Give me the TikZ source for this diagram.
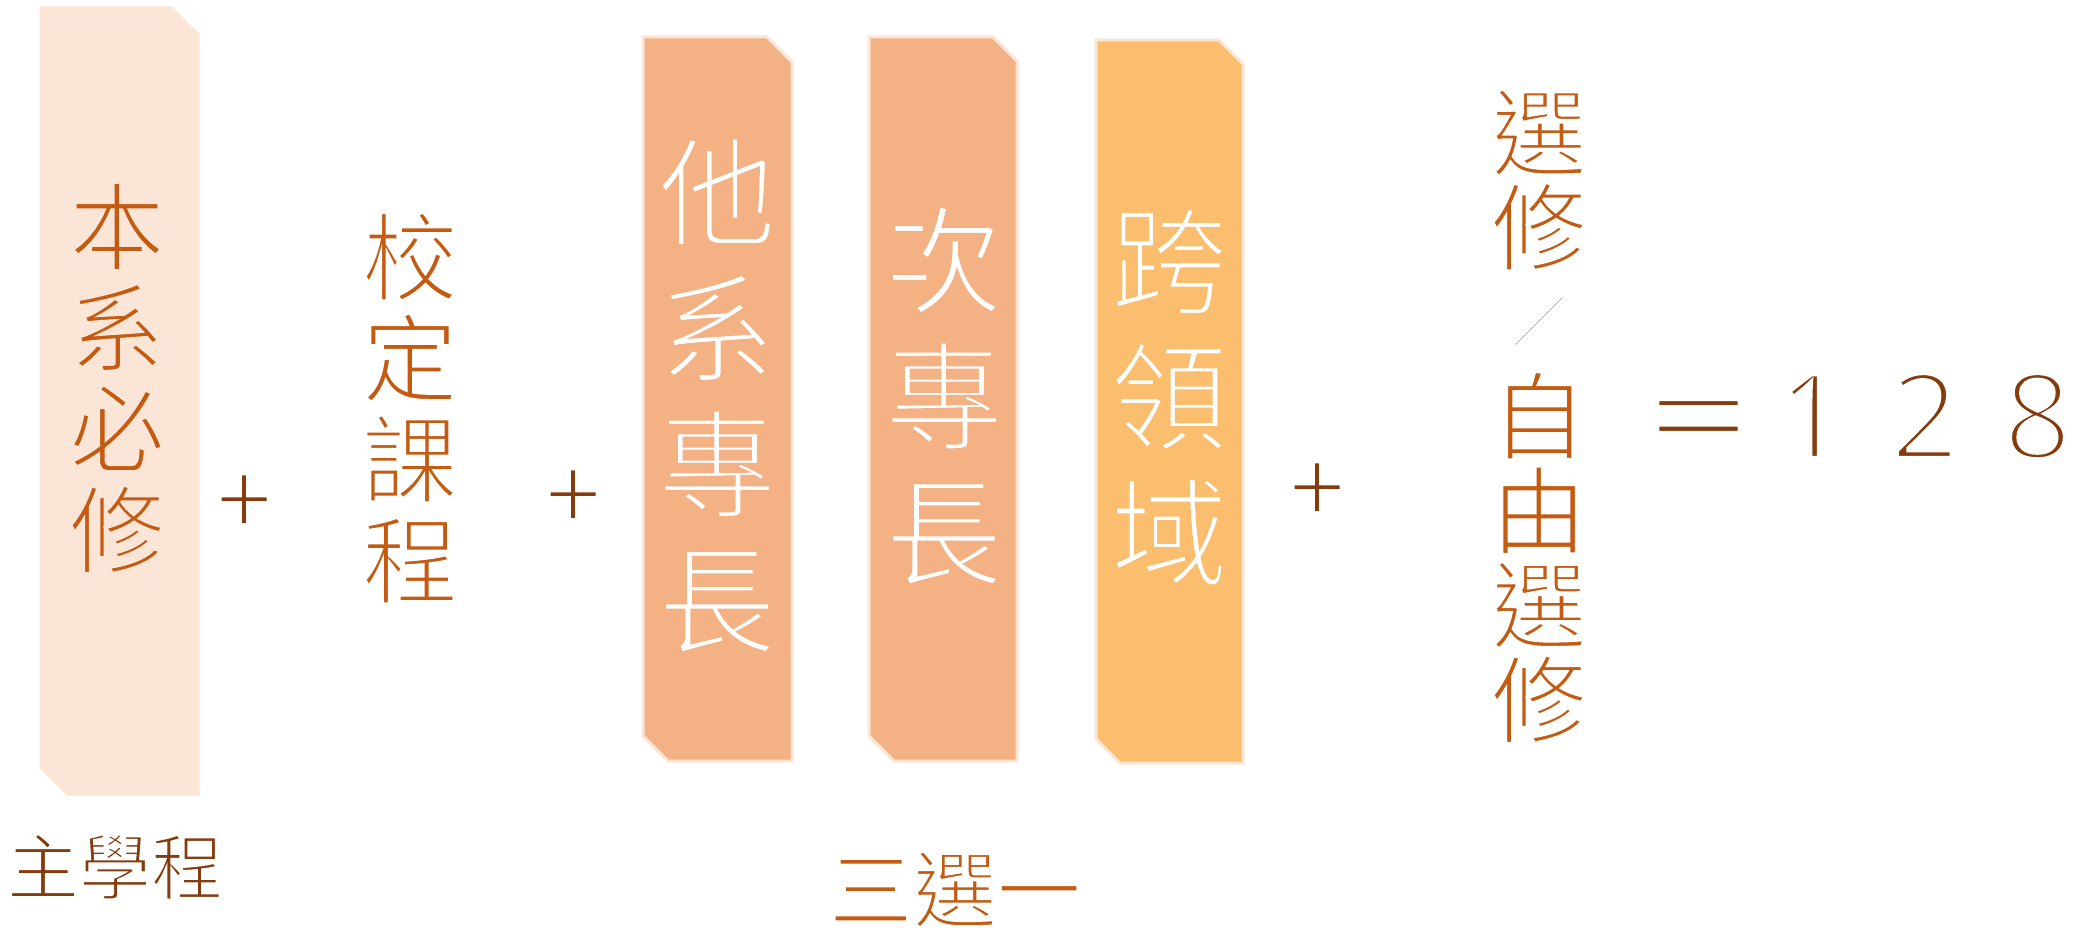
\documentclass[tikz,border=0pt]{standalone}
\usepackage{fontspec}
\setmainfont{Noto Sans CJK TC}
\newfontfamily\latinfont{Noto Sans}
\definecolor{pale}{HTML}{FBE5D6}
\definecolor{salmon}{HTML}{F4B183}
\definecolor{gold}{HTML}{FABE6E}
\definecolor{rust}{HTML}{C55A11}
\definecolor{brown}{HTML}{843C0C}
\newcommand\colfont[2]{\fontsize{#1}{#2}\selectfont\lineskiplimit=-200pt\relax}
% thin the glyphs: fill, then stroke the outline in the background colour
\newcommand\setink[2]{\def\inkw{#1}\def\inkc{#2}}
\setink{1.4}{1 1 1}
\newcommand\gl{\special{pdf:literal 2 Tr \inkw\space w \inkc\space RG}}
\newcommand\inkoff{\special{pdf:literal 0 Tr}}
\tikzset{
  panel/.style={draw=pale, line width=1.5pt, line join=miter},
  vcol/.style={align=center, inner sep=0pt, text=#1},
  plussign/.style={inner sep=0pt, text=brown, font=\fontsize{50pt}{50pt}\selectfont\setink{1.5}{1 1 1}},
  label/.style={inner sep=0pt, anchor=base}
}
\begin{document}
\begin{tikzpicture}[x=0.5pt,y=-0.5pt]
\useasboundingbox[fill=white] (0,0) rectangle (2092,931);
% panels
\path[fill=pale, draw=pale, line width=0.5pt] (40,7) -- (172,7) -- (199,34) -- (199,795) -- (67,795) -- (40,768) -- cycle;
\path[panel, fill=salmon] (643,37) -- (767,37) -- (792,62) -- (792,761) -- (668,761) -- (643,736) -- cycle;
\path[panel, fill=salmon] (869,37) -- (993,37) -- (1017,61) -- (1017,761) -- (894,761) -- (869,736) -- cycle;
\path[panel, fill=gold] (1096,40) -- (1219,40) -- (1243,64) -- (1243,763) -- (1120,763) -- (1096,739) -- cycle;
% column texts
\node[vcol=rust, font=\colfont{48pt}{50.5pt}\setink{1.5}{0.984 0.898 0.839}] (core) at (117,378)
  {\gl 本\\\gl 系\\\gl 必\\\gl 修\inkoff};
\node[vcol=rust, font=\colfont{48pt}{50.5pt}\setink{1.5}{1 1 1}] (school) at (410,408)
  {\gl 校\\\gl 定\\\gl 課\\\gl 程\inkoff};
\node[vcol=white, font=\colfont{59pt}{68pt}\setink{1.9}{0.957 0.694 0.514}] (other) at (717,396)
  {\gl 他\\\gl 系\\\gl 專\\\gl 長\inkoff};
\node[vcol=white, font=\colfont{59pt}{68pt}\setink{1.9}{0.957 0.694 0.514}] (second) at (944,396)
  {\gl 次\\\gl 專\\\gl 長\inkoff};
\node[vcol=white, font=\colfont{59pt}{68pt}\setink{1.9}{0.980 0.745 0.431}] (cross) at (1169,397)
  {\gl 跨\\\gl 領\\\gl 域\inkoff};
\node[vcol=rust, font=\colfont{48pt}{47.25pt}\setink{1.5}{1 1 1}] (elective) at (1539,416)
  {\gl 選\\\gl 修\\\raisebox{8pt}{\fontsize{27pt}{27pt}\selectfont\setink{0.8}{1 1 1}\gl ／}\\\gl 自\\\gl 由\\\gl 選\\\gl 修\inkoff};
% plus signs
\node[plussign] (p1) at (244,505) {\gl +\inkoff};
\node[plussign] (p2) at (573,500) {\gl +\inkoff};
\node[plussign] (p3) at (1317,493) {\gl +\inkoff};
% total
\node[label, text=brown, font=\fontsize{56.5pt}{56.5pt}\selectfont\setink{1.8}{1 1 1}] (total) at (1868,459)
  {\gl ＝\setink{3}{1 1 1}%
   \makebox[56.5pt][c]{\latinfont\fontsize{60pt}{60pt}\selectfont\gl 1}%
   \makebox[56.5pt][c]{\latinfont\fontsize{60pt}{60pt}\selectfont\gl 2}%
   \makebox[56.5pt][c]{\latinfont\fontsize{60pt}{60pt}\selectfont\gl 8}\inkoff};
% captions
\node[label, text=brown, font=\fontsize{36pt}{36pt}\selectfont\setink{1.1}{1 1 1}] (major) at (115,894)
  {\gl 主學程\inkoff};
\node[label, text=rust, font=\fontsize{42pt}{42pt}\selectfont\setink{1.25}{1 1 1}] (pick) at (955,921)
  {\gl 三選一\inkoff};
\end{tikzpicture}
\end{document}
